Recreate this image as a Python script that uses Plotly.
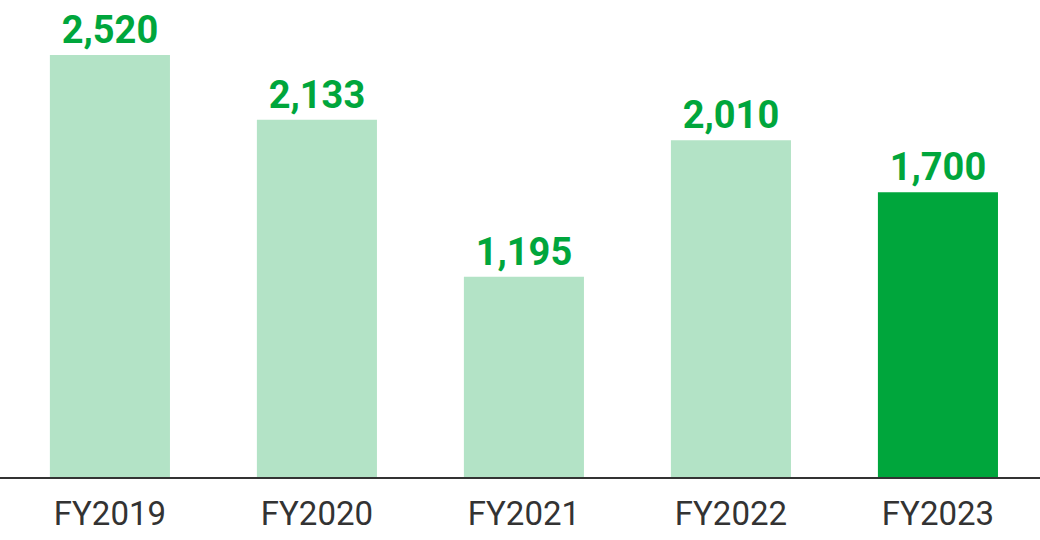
import plotly.graph_objects as go

# Values
years = ["FY2019", "FY2020", "FY2021", "FY2022", "FY2023"]
values = [2520, 2133, 1195, 2010, 1700]
bar_colors = ["#b3e3c6", "#b3e3c6", "#b3e3c6", "#b3e3c6", "#00a63c"]

fig = go.Figure(go.Bar(
    x=years,
    y=values,
    marker=dict(color=bar_colors, line=dict(width=0)),
    text=[f"{v:,}" for v in values],
    textposition="outside",
    constraintext="none",
    cliponaxis=False,
    textfont=dict(family="Roboto", size=38, color="#00a63c", weight="bold"),
))

fig.update_layout(
    width=1040, height=540,
    margin=dict(l=0, r=0, t=0, b=63),
    plot_bgcolor="white", paper_bgcolor="white",
    bargap=0.42,
    showlegend=False,
)
fig.update_yaxes(range=[0, 2848], visible=False)
fig.update_xaxes(
    range=[-0.531, 4.493],
    showline=True, linecolor="#333333", linewidth=2,
    ticks="", tickfont=dict(family="Roboto", size=33, color="#333333"),
    ticklabelstandoff=6,
)

# drop the default page margin so the chart sits at the window corner
fig.write_html("out.html", config={"displayModeBar": False},
               post_script="document.body.style.margin='0';")
